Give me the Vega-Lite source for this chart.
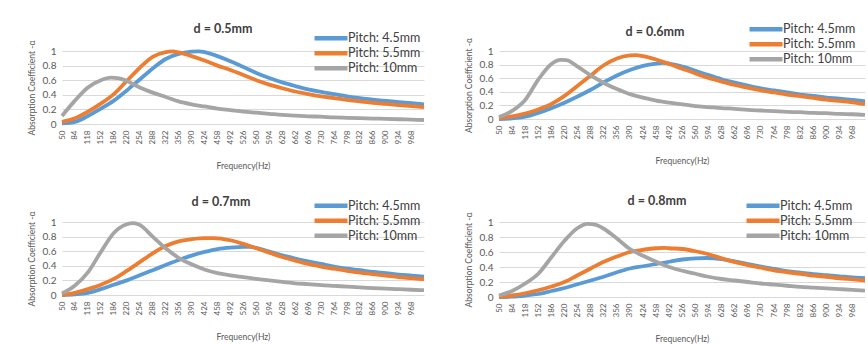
{
  "$schema": "https://vega.github.io/schema/vega-lite/v6.json",
  "background": "white",
  "padding": {"left": 27, "top": 22, "right": 0, "bottom": 0},
  "spacing": {"row": 23, "column": 32},
  "columns": 2,
  "config": {
    "font": "Lato",
    "view": {"stroke": null},
    "title": {"font": "Lato", "fontSize": 12.5, "fontWeight": "bold", "color": "#404040", "offset": -9, "dx": -20, "frame": "group"},
    "axis": {"domain": false, "ticks": false, "labelColor": "#595959", "titleColor": "#595959", "titleFont": "Lato", "labelFont": "Lato", "titleFontWeight": "normal", "gridColor": "#d9d9d9", "gridWidth": 1},
    "axisX": {"grid": false, "labelAngle": -90, "labelFontSize": 8, "labelPadding": 6, "titleFontSize": 8.5, "titlePadding": 18},
    "axisY": {"grid": true, "labelFontSize": 10, "labelPadding": 6, "titleFontSize": 8.5, "titlePadding": 6},
    "legend": {"labelFont": "Lato", "labelFontSize": 12.5, "labelColor": "#404040", "symbolType": "stroke", "symbolStrokeWidth": 4.5, "symbolSize": 1089, "clipHeight": 14.5, "rowPadding": 0, "labelOffset": -2, "padding": 0}
  },
  "resolve": {"legend": {"color": "independent"}},
  "data": {"values": [
    {"d":"0.5","p":"Pitch: 4.5mm","f":50,"a":0.01},{"d":"0.5","p":"Pitch: 4.5mm","f":84,"a":0.03},{"d":"0.5","p":"Pitch: 4.5mm","f":118,"a":0.11},{"d":"0.5","p":"Pitch: 4.5mm","f":152,"a":0.21},{"d":"0.5","p":"Pitch: 4.5mm","f":186,"a":0.32},{"d":"0.5","p":"Pitch: 4.5mm","f":220,"a":0.46},{"d":"0.5","p":"Pitch: 4.5mm","f":254,"a":0.61},{"d":"0.5","p":"Pitch: 4.5mm","f":288,"a":0.76},{"d":"0.5","p":"Pitch: 4.5mm","f":322,"a":0.89},{"d":"0.5","p":"Pitch: 4.5mm","f":356,"a":0.96},{"d":"0.5","p":"Pitch: 4.5mm","f":390,"a":0.99},{"d":"0.5","p":"Pitch: 4.5mm","f":410,"a":0.995},{"d":"0.5","p":"Pitch: 4.5mm","f":424,"a":0.985},{"d":"0.5","p":"Pitch: 4.5mm","f":458,"a":0.93},{"d":"0.5","p":"Pitch: 4.5mm","f":492,"a":0.86},{"d":"0.5","p":"Pitch: 4.5mm","f":526,"a":0.78},{"d":"0.5","p":"Pitch: 4.5mm","f":560,"a":0.70},{"d":"0.5","p":"Pitch: 4.5mm","f":594,"a":0.63},{"d":"0.5","p":"Pitch: 4.5mm","f":628,"a":0.57},{"d":"0.5","p":"Pitch: 4.5mm","f":662,"a":0.52},{"d":"0.5","p":"Pitch: 4.5mm","f":696,"a":0.475},{"d":"0.5","p":"Pitch: 4.5mm","f":730,"a":0.44},{"d":"0.5","p":"Pitch: 4.5mm","f":764,"a":0.41},{"d":"0.5","p":"Pitch: 4.5mm","f":798,"a":0.38},{"d":"0.5","p":"Pitch: 4.5mm","f":832,"a":0.355},{"d":"0.5","p":"Pitch: 4.5mm","f":866,"a":0.335},{"d":"0.5","p":"Pitch: 4.5mm","f":900,"a":0.315},{"d":"0.5","p":"Pitch: 4.5mm","f":934,"a":0.3},{"d":"0.5","p":"Pitch: 4.5mm","f":968,"a":0.285},{"d":"0.5","p":"Pitch: 4.5mm","f":1000,"a":0.27},
    {"d":"0.5","p":"Pitch: 5.5mm","f":50,"a":0.03},{"d":"0.5","p":"Pitch: 5.5mm","f":84,"a":0.08},{"d":"0.5","p":"Pitch: 5.5mm","f":118,"a":0.17},{"d":"0.5","p":"Pitch: 5.5mm","f":152,"a":0.28},{"d":"0.5","p":"Pitch: 5.5mm","f":186,"a":0.41},{"d":"0.5","p":"Pitch: 5.5mm","f":220,"a":0.59},{"d":"0.5","p":"Pitch: 5.5mm","f":254,"a":0.77},{"d":"0.5","p":"Pitch: 5.5mm","f":288,"a":0.92},{"d":"0.5","p":"Pitch: 5.5mm","f":322,"a":0.985},{"d":"0.5","p":"Pitch: 5.5mm","f":340,"a":0.995},{"d":"0.5","p":"Pitch: 5.5mm","f":356,"a":0.98},{"d":"0.5","p":"Pitch: 5.5mm","f":390,"a":0.93},{"d":"0.5","p":"Pitch: 5.5mm","f":424,"a":0.87},{"d":"0.5","p":"Pitch: 5.5mm","f":458,"a":0.8},{"d":"0.5","p":"Pitch: 5.5mm","f":492,"a":0.74},{"d":"0.5","p":"Pitch: 5.5mm","f":526,"a":0.67},{"d":"0.5","p":"Pitch: 5.5mm","f":560,"a":0.6},{"d":"0.5","p":"Pitch: 5.5mm","f":594,"a":0.54},{"d":"0.5","p":"Pitch: 5.5mm","f":628,"a":0.49},{"d":"0.5","p":"Pitch: 5.5mm","f":662,"a":0.445},{"d":"0.5","p":"Pitch: 5.5mm","f":696,"a":0.41},{"d":"0.5","p":"Pitch: 5.5mm","f":730,"a":0.38},{"d":"0.5","p":"Pitch: 5.5mm","f":764,"a":0.355},{"d":"0.5","p":"Pitch: 5.5mm","f":798,"a":0.33},{"d":"0.5","p":"Pitch: 5.5mm","f":832,"a":0.31},{"d":"0.5","p":"Pitch: 5.5mm","f":866,"a":0.29},{"d":"0.5","p":"Pitch: 5.5mm","f":900,"a":0.275},{"d":"0.5","p":"Pitch: 5.5mm","f":934,"a":0.26},{"d":"0.5","p":"Pitch: 5.5mm","f":968,"a":0.245},{"d":"0.5","p":"Pitch: 5.5mm","f":1000,"a":0.23},
    {"d":"0.5","p":"Pitch: 10mm","f":50,"a":0.11},{"d":"0.5","p":"Pitch: 10mm","f":84,"a":0.32},{"d":"0.5","p":"Pitch: 10mm","f":118,"a":0.5},{"d":"0.5","p":"Pitch: 10mm","f":152,"a":0.6},{"d":"0.5","p":"Pitch: 10mm","f":178,"a":0.635},{"d":"0.5","p":"Pitch: 10mm","f":200,"a":0.625},{"d":"0.5","p":"Pitch: 10mm","f":220,"a":0.59},{"d":"0.5","p":"Pitch: 10mm","f":254,"a":0.5},{"d":"0.5","p":"Pitch: 10mm","f":288,"a":0.43},{"d":"0.5","p":"Pitch: 10mm","f":322,"a":0.37},{"d":"0.5","p":"Pitch: 10mm","f":356,"a":0.31},{"d":"0.5","p":"Pitch: 10mm","f":390,"a":0.27},{"d":"0.5","p":"Pitch: 10mm","f":424,"a":0.24},{"d":"0.5","p":"Pitch: 10mm","f":458,"a":0.21},{"d":"0.5","p":"Pitch: 10mm","f":492,"a":0.19},{"d":"0.5","p":"Pitch: 10mm","f":526,"a":0.17},{"d":"0.5","p":"Pitch: 10mm","f":560,"a":0.155},{"d":"0.5","p":"Pitch: 10mm","f":594,"a":0.14},{"d":"0.5","p":"Pitch: 10mm","f":628,"a":0.125},{"d":"0.5","p":"Pitch: 10mm","f":662,"a":0.115},{"d":"0.5","p":"Pitch: 10mm","f":696,"a":0.105},{"d":"0.5","p":"Pitch: 10mm","f":730,"a":0.1},{"d":"0.5","p":"Pitch: 10mm","f":764,"a":0.09},{"d":"0.5","p":"Pitch: 10mm","f":798,"a":0.085},{"d":"0.5","p":"Pitch: 10mm","f":832,"a":0.08},{"d":"0.5","p":"Pitch: 10mm","f":866,"a":0.075},{"d":"0.5","p":"Pitch: 10mm","f":900,"a":0.07},{"d":"0.5","p":"Pitch: 10mm","f":934,"a":0.065},{"d":"0.5","p":"Pitch: 10mm","f":968,"a":0.06},{"d":"0.5","p":"Pitch: 10mm","f":1000,"a":0.055},

    {"d":"0.6","p":"Pitch: 4.5mm","f":50,"a":0.0},{"d":"0.6","p":"Pitch: 4.5mm","f":84,"a":0.01},{"d":"0.6","p":"Pitch: 4.5mm","f":118,"a":0.035},{"d":"0.6","p":"Pitch: 4.5mm","f":152,"a":0.09},{"d":"0.6","p":"Pitch: 4.5mm","f":186,"a":0.16},{"d":"0.6","p":"Pitch: 4.5mm","f":220,"a":0.24},{"d":"0.6","p":"Pitch: 4.5mm","f":254,"a":0.33},{"d":"0.6","p":"Pitch: 4.5mm","f":288,"a":0.43},{"d":"0.6","p":"Pitch: 4.5mm","f":322,"a":0.54},{"d":"0.6","p":"Pitch: 4.5mm","f":356,"a":0.64},{"d":"0.6","p":"Pitch: 4.5mm","f":390,"a":0.72},{"d":"0.6","p":"Pitch: 4.5mm","f":424,"a":0.78},{"d":"0.6","p":"Pitch: 4.5mm","f":458,"a":0.815},{"d":"0.6","p":"Pitch: 4.5mm","f":475,"a":0.825},{"d":"0.6","p":"Pitch: 4.5mm","f":492,"a":0.815},{"d":"0.6","p":"Pitch: 4.5mm","f":526,"a":0.77},{"d":"0.6","p":"Pitch: 4.5mm","f":560,"a":0.71},{"d":"0.6","p":"Pitch: 4.5mm","f":594,"a":0.645},{"d":"0.6","p":"Pitch: 4.5mm","f":628,"a":0.585},{"d":"0.6","p":"Pitch: 4.5mm","f":662,"a":0.535},{"d":"0.6","p":"Pitch: 4.5mm","f":696,"a":0.49},{"d":"0.6","p":"Pitch: 4.5mm","f":730,"a":0.45},{"d":"0.6","p":"Pitch: 4.5mm","f":764,"a":0.42},{"d":"0.6","p":"Pitch: 4.5mm","f":798,"a":0.39},{"d":"0.6","p":"Pitch: 4.5mm","f":832,"a":0.36},{"d":"0.6","p":"Pitch: 4.5mm","f":866,"a":0.34},{"d":"0.6","p":"Pitch: 4.5mm","f":900,"a":0.315},{"d":"0.6","p":"Pitch: 4.5mm","f":934,"a":0.3},{"d":"0.6","p":"Pitch: 4.5mm","f":968,"a":0.28},{"d":"0.6","p":"Pitch: 4.5mm","f":1000,"a":0.26},
    {"d":"0.6","p":"Pitch: 5.5mm","f":50,"a":0.01},{"d":"0.6","p":"Pitch: 5.5mm","f":84,"a":0.04},{"d":"0.6","p":"Pitch: 5.5mm","f":118,"a":0.08},{"d":"0.6","p":"Pitch: 5.5mm","f":152,"a":0.14},{"d":"0.6","p":"Pitch: 5.5mm","f":186,"a":0.22},{"d":"0.6","p":"Pitch: 5.5mm","f":220,"a":0.34},{"d":"0.6","p":"Pitch: 5.5mm","f":254,"a":0.49},{"d":"0.6","p":"Pitch: 5.5mm","f":288,"a":0.64},{"d":"0.6","p":"Pitch: 5.5mm","f":322,"a":0.79},{"d":"0.6","p":"Pitch: 5.5mm","f":356,"a":0.89},{"d":"0.6","p":"Pitch: 5.5mm","f":390,"a":0.935},{"d":"0.6","p":"Pitch: 5.5mm","f":405,"a":0.94},{"d":"0.6","p":"Pitch: 5.5mm","f":424,"a":0.925},{"d":"0.6","p":"Pitch: 5.5mm","f":458,"a":0.875},{"d":"0.6","p":"Pitch: 5.5mm","f":492,"a":0.81},{"d":"0.6","p":"Pitch: 5.5mm","f":526,"a":0.74},{"d":"0.6","p":"Pitch: 5.5mm","f":560,"a":0.67},{"d":"0.6","p":"Pitch: 5.5mm","f":594,"a":0.605},{"d":"0.6","p":"Pitch: 5.5mm","f":628,"a":0.55},{"d":"0.6","p":"Pitch: 5.5mm","f":662,"a":0.5},{"d":"0.6","p":"Pitch: 5.5mm","f":696,"a":0.46},{"d":"0.6","p":"Pitch: 5.5mm","f":730,"a":0.42},{"d":"0.6","p":"Pitch: 5.5mm","f":764,"a":0.39},{"d":"0.6","p":"Pitch: 5.5mm","f":798,"a":0.36},{"d":"0.6","p":"Pitch: 5.5mm","f":832,"a":0.335},{"d":"0.6","p":"Pitch: 5.5mm","f":866,"a":0.31},{"d":"0.6","p":"Pitch: 5.5mm","f":900,"a":0.285},{"d":"0.6","p":"Pitch: 5.5mm","f":934,"a":0.265},{"d":"0.6","p":"Pitch: 5.5mm","f":968,"a":0.245},{"d":"0.6","p":"Pitch: 5.5mm","f":1000,"a":0.22},
    {"d":"0.6","p":"Pitch: 10mm","f":50,"a":0.03},{"d":"0.6","p":"Pitch: 10mm","f":84,"a":0.12},{"d":"0.6","p":"Pitch: 10mm","f":118,"a":0.28},{"d":"0.6","p":"Pitch: 10mm","f":152,"a":0.58},{"d":"0.6","p":"Pitch: 10mm","f":186,"a":0.81},{"d":"0.6","p":"Pitch: 10mm","f":210,"a":0.87},{"d":"0.6","p":"Pitch: 10mm","f":225,"a":0.865},{"d":"0.6","p":"Pitch: 10mm","f":254,"a":0.77},{"d":"0.6","p":"Pitch: 10mm","f":288,"a":0.64},{"d":"0.6","p":"Pitch: 10mm","f":322,"a":0.53},{"d":"0.6","p":"Pitch: 10mm","f":356,"a":0.44},{"d":"0.6","p":"Pitch: 10mm","f":390,"a":0.365},{"d":"0.6","p":"Pitch: 10mm","f":424,"a":0.315},{"d":"0.6","p":"Pitch: 10mm","f":458,"a":0.27},{"d":"0.6","p":"Pitch: 10mm","f":492,"a":0.24},{"d":"0.6","p":"Pitch: 10mm","f":526,"a":0.215},{"d":"0.6","p":"Pitch: 10mm","f":560,"a":0.19},{"d":"0.6","p":"Pitch: 10mm","f":594,"a":0.175},{"d":"0.6","p":"Pitch: 10mm","f":628,"a":0.16},{"d":"0.6","p":"Pitch: 10mm","f":662,"a":0.15},{"d":"0.6","p":"Pitch: 10mm","f":696,"a":0.135},{"d":"0.6","p":"Pitch: 10mm","f":730,"a":0.125},{"d":"0.6","p":"Pitch: 10mm","f":764,"a":0.115},{"d":"0.6","p":"Pitch: 10mm","f":798,"a":0.105},{"d":"0.6","p":"Pitch: 10mm","f":832,"a":0.1},{"d":"0.6","p":"Pitch: 10mm","f":866,"a":0.09},{"d":"0.6","p":"Pitch: 10mm","f":900,"a":0.085},{"d":"0.6","p":"Pitch: 10mm","f":934,"a":0.075},{"d":"0.6","p":"Pitch: 10mm","f":968,"a":0.07},{"d":"0.6","p":"Pitch: 10mm","f":1000,"a":0.06},

    {"d":"0.7","p":"Pitch: 4.5mm","f":50,"a":0.0},{"d":"0.7","p":"Pitch: 4.5mm","f":84,"a":0.01},{"d":"0.7","p":"Pitch: 4.5mm","f":118,"a":0.03},{"d":"0.7","p":"Pitch: 4.5mm","f":152,"a":0.08},{"d":"0.7","p":"Pitch: 4.5mm","f":186,"a":0.14},{"d":"0.7","p":"Pitch: 4.5mm","f":220,"a":0.2},{"d":"0.7","p":"Pitch: 4.5mm","f":254,"a":0.27},{"d":"0.7","p":"Pitch: 4.5mm","f":288,"a":0.34},{"d":"0.7","p":"Pitch: 4.5mm","f":322,"a":0.41},{"d":"0.7","p":"Pitch: 4.5mm","f":356,"a":0.48},{"d":"0.7","p":"Pitch: 4.5mm","f":390,"a":0.54},{"d":"0.7","p":"Pitch: 4.5mm","f":424,"a":0.59},{"d":"0.7","p":"Pitch: 4.5mm","f":458,"a":0.63},{"d":"0.7","p":"Pitch: 4.5mm","f":492,"a":0.65},{"d":"0.7","p":"Pitch: 4.5mm","f":526,"a":0.66},{"d":"0.7","p":"Pitch: 4.5mm","f":545,"a":0.66},{"d":"0.7","p":"Pitch: 4.5mm","f":560,"a":0.645},{"d":"0.7","p":"Pitch: 4.5mm","f":594,"a":0.595},{"d":"0.7","p":"Pitch: 4.5mm","f":628,"a":0.545},{"d":"0.7","p":"Pitch: 4.5mm","f":662,"a":0.5},{"d":"0.7","p":"Pitch: 4.5mm","f":696,"a":0.46},{"d":"0.7","p":"Pitch: 4.5mm","f":730,"a":0.425},{"d":"0.7","p":"Pitch: 4.5mm","f":764,"a":0.39},{"d":"0.7","p":"Pitch: 4.5mm","f":798,"a":0.36},{"d":"0.7","p":"Pitch: 4.5mm","f":832,"a":0.34},{"d":"0.7","p":"Pitch: 4.5mm","f":866,"a":0.315},{"d":"0.7","p":"Pitch: 4.5mm","f":900,"a":0.3},{"d":"0.7","p":"Pitch: 4.5mm","f":934,"a":0.28},{"d":"0.7","p":"Pitch: 4.5mm","f":968,"a":0.265},{"d":"0.7","p":"Pitch: 4.5mm","f":1000,"a":0.25},
    {"d":"0.7","p":"Pitch: 5.5mm","f":50,"a":0.0},{"d":"0.7","p":"Pitch: 5.5mm","f":84,"a":0.03},{"d":"0.7","p":"Pitch: 5.5mm","f":118,"a":0.08},{"d":"0.7","p":"Pitch: 5.5mm","f":152,"a":0.14},{"d":"0.7","p":"Pitch: 5.5mm","f":186,"a":0.22},{"d":"0.7","p":"Pitch: 5.5mm","f":220,"a":0.33},{"d":"0.7","p":"Pitch: 5.5mm","f":254,"a":0.45},{"d":"0.7","p":"Pitch: 5.5mm","f":288,"a":0.57},{"d":"0.7","p":"Pitch: 5.5mm","f":322,"a":0.67},{"d":"0.7","p":"Pitch: 5.5mm","f":356,"a":0.735},{"d":"0.7","p":"Pitch: 5.5mm","f":390,"a":0.765},{"d":"0.7","p":"Pitch: 5.5mm","f":424,"a":0.78},{"d":"0.7","p":"Pitch: 5.5mm","f":450,"a":0.78},{"d":"0.7","p":"Pitch: 5.5mm","f":470,"a":0.77},{"d":"0.7","p":"Pitch: 5.5mm","f":492,"a":0.75},{"d":"0.7","p":"Pitch: 5.5mm","f":526,"a":0.7},{"d":"0.7","p":"Pitch: 5.5mm","f":560,"a":0.64},{"d":"0.7","p":"Pitch: 5.5mm","f":594,"a":0.58},{"d":"0.7","p":"Pitch: 5.5mm","f":628,"a":0.52},{"d":"0.7","p":"Pitch: 5.5mm","f":662,"a":0.47},{"d":"0.7","p":"Pitch: 5.5mm","f":696,"a":0.425},{"d":"0.7","p":"Pitch: 5.5mm","f":730,"a":0.39},{"d":"0.7","p":"Pitch: 5.5mm","f":764,"a":0.36},{"d":"0.7","p":"Pitch: 5.5mm","f":798,"a":0.33},{"d":"0.7","p":"Pitch: 5.5mm","f":832,"a":0.305},{"d":"0.7","p":"Pitch: 5.5mm","f":866,"a":0.285},{"d":"0.7","p":"Pitch: 5.5mm","f":900,"a":0.265},{"d":"0.7","p":"Pitch: 5.5mm","f":934,"a":0.245},{"d":"0.7","p":"Pitch: 5.5mm","f":968,"a":0.23},{"d":"0.7","p":"Pitch: 5.5mm","f":1000,"a":0.215},
    {"d":"0.7","p":"Pitch: 10mm","f":50,"a":0.02},{"d":"0.7","p":"Pitch: 10mm","f":84,"a":0.13},{"d":"0.7","p":"Pitch: 10mm","f":118,"a":0.31},{"d":"0.7","p":"Pitch: 10mm","f":152,"a":0.59},{"d":"0.7","p":"Pitch: 10mm","f":186,"a":0.85},{"d":"0.7","p":"Pitch: 10mm","f":220,"a":0.97},{"d":"0.7","p":"Pitch: 10mm","f":238,"a":0.985},{"d":"0.7","p":"Pitch: 10mm","f":254,"a":0.96},{"d":"0.7","p":"Pitch: 10mm","f":288,"a":0.8},{"d":"0.7","p":"Pitch: 10mm","f":322,"a":0.64},{"d":"0.7","p":"Pitch: 10mm","f":356,"a":0.51},{"d":"0.7","p":"Pitch: 10mm","f":390,"a":0.42},{"d":"0.7","p":"Pitch: 10mm","f":424,"a":0.35},{"d":"0.7","p":"Pitch: 10mm","f":458,"a":0.3},{"d":"0.7","p":"Pitch: 10mm","f":492,"a":0.27},{"d":"0.7","p":"Pitch: 10mm","f":526,"a":0.245},{"d":"0.7","p":"Pitch: 10mm","f":560,"a":0.22},{"d":"0.7","p":"Pitch: 10mm","f":594,"a":0.2},{"d":"0.7","p":"Pitch: 10mm","f":628,"a":0.18},{"d":"0.7","p":"Pitch: 10mm","f":662,"a":0.16},{"d":"0.7","p":"Pitch: 10mm","f":696,"a":0.15},{"d":"0.7","p":"Pitch: 10mm","f":730,"a":0.135},{"d":"0.7","p":"Pitch: 10mm","f":764,"a":0.125},{"d":"0.7","p":"Pitch: 10mm","f":798,"a":0.115},{"d":"0.7","p":"Pitch: 10mm","f":832,"a":0.105},{"d":"0.7","p":"Pitch: 10mm","f":866,"a":0.095},{"d":"0.7","p":"Pitch: 10mm","f":900,"a":0.088},{"d":"0.7","p":"Pitch: 10mm","f":934,"a":0.08},{"d":"0.7","p":"Pitch: 10mm","f":968,"a":0.072},{"d":"0.7","p":"Pitch: 10mm","f":1000,"a":0.066},

    {"d":"0.8","p":"Pitch: 4.5mm","f":50,"a":0.0},{"d":"0.8","p":"Pitch: 4.5mm","f":84,"a":0.005},{"d":"0.8","p":"Pitch: 4.5mm","f":118,"a":0.02},{"d":"0.8","p":"Pitch: 4.5mm","f":152,"a":0.04},{"d":"0.8","p":"Pitch: 4.5mm","f":186,"a":0.08},{"d":"0.8","p":"Pitch: 4.5mm","f":220,"a":0.12},{"d":"0.8","p":"Pitch: 4.5mm","f":254,"a":0.17},{"d":"0.8","p":"Pitch: 4.5mm","f":288,"a":0.22},{"d":"0.8","p":"Pitch: 4.5mm","f":322,"a":0.27},{"d":"0.8","p":"Pitch: 4.5mm","f":356,"a":0.33},{"d":"0.8","p":"Pitch: 4.5mm","f":390,"a":0.38},{"d":"0.8","p":"Pitch: 4.5mm","f":424,"a":0.41},{"d":"0.8","p":"Pitch: 4.5mm","f":458,"a":0.44},{"d":"0.8","p":"Pitch: 4.5mm","f":492,"a":0.47},{"d":"0.8","p":"Pitch: 4.5mm","f":526,"a":0.5},{"d":"0.8","p":"Pitch: 4.5mm","f":560,"a":0.515},{"d":"0.8","p":"Pitch: 4.5mm","f":590,"a":0.52},{"d":"0.8","p":"Pitch: 4.5mm","f":628,"a":0.505},{"d":"0.8","p":"Pitch: 4.5mm","f":662,"a":0.475},{"d":"0.8","p":"Pitch: 4.5mm","f":696,"a":0.44},{"d":"0.8","p":"Pitch: 4.5mm","f":730,"a":0.405},{"d":"0.8","p":"Pitch: 4.5mm","f":764,"a":0.375},{"d":"0.8","p":"Pitch: 4.5mm","f":798,"a":0.345},{"d":"0.8","p":"Pitch: 4.5mm","f":832,"a":0.325},{"d":"0.8","p":"Pitch: 4.5mm","f":866,"a":0.305},{"d":"0.8","p":"Pitch: 4.5mm","f":900,"a":0.29},{"d":"0.8","p":"Pitch: 4.5mm","f":934,"a":0.275},{"d":"0.8","p":"Pitch: 4.5mm","f":968,"a":0.26},{"d":"0.8","p":"Pitch: 4.5mm","f":1000,"a":0.25},
    {"d":"0.8","p":"Pitch: 5.5mm","f":50,"a":0.0},{"d":"0.8","p":"Pitch: 5.5mm","f":84,"a":0.02},{"d":"0.8","p":"Pitch: 5.5mm","f":118,"a":0.05},{"d":"0.8","p":"Pitch: 5.5mm","f":152,"a":0.09},{"d":"0.8","p":"Pitch: 5.5mm","f":186,"a":0.14},{"d":"0.8","p":"Pitch: 5.5mm","f":220,"a":0.2},{"d":"0.8","p":"Pitch: 5.5mm","f":254,"a":0.29},{"d":"0.8","p":"Pitch: 5.5mm","f":288,"a":0.38},{"d":"0.8","p":"Pitch: 5.5mm","f":322,"a":0.47},{"d":"0.8","p":"Pitch: 5.5mm","f":356,"a":0.54},{"d":"0.8","p":"Pitch: 5.5mm","f":390,"a":0.6},{"d":"0.8","p":"Pitch: 5.5mm","f":424,"a":0.63},{"d":"0.8","p":"Pitch: 5.5mm","f":458,"a":0.65},{"d":"0.8","p":"Pitch: 5.5mm","f":480,"a":0.655},{"d":"0.8","p":"Pitch: 5.5mm","f":492,"a":0.65},{"d":"0.8","p":"Pitch: 5.5mm","f":526,"a":0.64},{"d":"0.8","p":"Pitch: 5.5mm","f":560,"a":0.61},{"d":"0.8","p":"Pitch: 5.5mm","f":594,"a":0.57},{"d":"0.8","p":"Pitch: 5.5mm","f":628,"a":0.515},{"d":"0.8","p":"Pitch: 5.5mm","f":662,"a":0.465},{"d":"0.8","p":"Pitch: 5.5mm","f":696,"a":0.425},{"d":"0.8","p":"Pitch: 5.5mm","f":730,"a":0.39},{"d":"0.8","p":"Pitch: 5.5mm","f":764,"a":0.355},{"d":"0.8","p":"Pitch: 5.5mm","f":798,"a":0.33},{"d":"0.8","p":"Pitch: 5.5mm","f":832,"a":0.31},{"d":"0.8","p":"Pitch: 5.5mm","f":866,"a":0.285},{"d":"0.8","p":"Pitch: 5.5mm","f":900,"a":0.27},{"d":"0.8","p":"Pitch: 5.5mm","f":934,"a":0.25},{"d":"0.8","p":"Pitch: 5.5mm","f":968,"a":0.235},{"d":"0.8","p":"Pitch: 5.5mm","f":1000,"a":0.22},
    {"d":"0.8","p":"Pitch: 10mm","f":50,"a":0.02},{"d":"0.8","p":"Pitch: 10mm","f":84,"a":0.08},{"d":"0.8","p":"Pitch: 10mm","f":118,"a":0.18},{"d":"0.8","p":"Pitch: 10mm","f":152,"a":0.31},{"d":"0.8","p":"Pitch: 10mm","f":186,"a":0.53},{"d":"0.8","p":"Pitch: 10mm","f":220,"a":0.75},{"d":"0.8","p":"Pitch: 10mm","f":254,"a":0.92},{"d":"0.8","p":"Pitch: 10mm","f":280,"a":0.975},{"d":"0.8","p":"Pitch: 10mm","f":300,"a":0.965},{"d":"0.8","p":"Pitch: 10mm","f":322,"a":0.91},{"d":"0.8","p":"Pitch: 10mm","f":356,"a":0.78},{"d":"0.8","p":"Pitch: 10mm","f":390,"a":0.64},{"d":"0.8","p":"Pitch: 10mm","f":424,"a":0.55},{"d":"0.8","p":"Pitch: 10mm","f":458,"a":0.47},{"d":"0.8","p":"Pitch: 10mm","f":492,"a":0.4},{"d":"0.8","p":"Pitch: 10mm","f":526,"a":0.35},{"d":"0.8","p":"Pitch: 10mm","f":560,"a":0.31},{"d":"0.8","p":"Pitch: 10mm","f":594,"a":0.27},{"d":"0.8","p":"Pitch: 10mm","f":628,"a":0.24},{"d":"0.8","p":"Pitch: 10mm","f":662,"a":0.22},{"d":"0.8","p":"Pitch: 10mm","f":696,"a":0.2},{"d":"0.8","p":"Pitch: 10mm","f":730,"a":0.18},{"d":"0.8","p":"Pitch: 10mm","f":764,"a":0.165},{"d":"0.8","p":"Pitch: 10mm","f":798,"a":0.15},{"d":"0.8","p":"Pitch: 10mm","f":832,"a":0.135},{"d":"0.8","p":"Pitch: 10mm","f":866,"a":0.125},{"d":"0.8","p":"Pitch: 10mm","f":900,"a":0.115},{"d":"0.8","p":"Pitch: 10mm","f":934,"a":0.105},{"d":"0.8","p":"Pitch: 10mm","f":968,"a":0.095},{"d":"0.8","p":"Pitch: 10mm","f":1000,"a":0.085}
  ]},
  "concat": [
    {
      "width": 362, "height": 73,
      "title": {"text": "d = 0.5mm", "offset": -4, "dx": -20},
      "transform": [{"filter": "datum.d == '0.5'"}],
      "mark": {"type": "line", "strokeWidth": 3.8, "interpolate": "monotone"},
      "encoding": {
        "x": {"field": "f", "type": "quantitative", "scale": {"domain": [50, 1000], "nice": false, "zero": false}, "axis": {"values": [50,84,118,152,186,220,254,288,322,356,390,424,458,492,526,560,594,628,662,696,730,764,798,832,866,900,934,968], "title": "Frequency(Hz)"}},
        "y": {"field": "a", "type": "quantitative", "scale": {"domain": [0, 1], "nice": false}, "axis": {"values": [0,0.2,0.4,0.6,0.8,1], "format": "~g", "title": "Absorption Coefficient -α"}},
        "color": {"field": "p", "type": "nominal", "scale": {"domain": ["Pitch: 4.5mm", "Pitch: 5.5mm", "Pitch: 10mm"], "range": ["#5B9BD5", "#ED7D31", "#A5A5A5"]}, "legend": {"orient": "none", "legendX": 250, "legendY": -20, "title": null}}
      }
    },
    {
      "width": 366, "height": 68,
      "title": {"text": "d = 0.6mm", "offset": -16, "dx": -27},
      "transform": [{"filter": "datum.d == '0.6'"}],
      "mark": {"type": "line", "strokeWidth": 3.8, "interpolate": "monotone"},
      "encoding": {
        "x": {"field": "f", "type": "quantitative", "scale": {"domain": [50, 1000], "nice": false, "zero": false}, "axis": {"values": [50,84,118,152,186,220,254,288,322,356,390,424,458,492,526,560,594,628,662,696,730,764,798,832,866,900,934,968], "title": "Frequency(Hz)"}},
        "y": {"field": "a", "type": "quantitative", "scale": {"domain": [0, 1], "nice": false}, "axis": {"values": [0,0.2,0.4,0.6,0.8,1], "format": "~g", "title": "Absorption Coefficient -α"}},
        "color": {"field": "p", "type": "nominal", "scale": {"domain": ["Pitch: 4.5mm", "Pitch: 5.5mm", "Pitch: 10mm"], "range": ["#5B9BD5", "#ED7D31", "#A5A5A5"]}, "legend": {"orient": "none", "legendX": 248, "legendY": -29, "title": null}}
      }
    },
    {
      "width": 362, "height": 73,
      "title": {"text": "d = 0.7mm", "offset": -9.5, "dx": -22},
      "transform": [{"filter": "datum.d == '0.7'"}],
      "mark": {"type": "line", "strokeWidth": 3.8, "interpolate": "monotone"},
      "encoding": {
        "x": {"field": "f", "type": "quantitative", "scale": {"domain": [50, 1000], "nice": false, "zero": false}, "axis": {"values": [50,84,118,152,186,220,254,288,322,356,390,424,458,492,526,560,594,628,662,696,730,764,798,832,866,900,934,968], "title": "Frequency(Hz)"}},
        "y": {"field": "a", "type": "quantitative", "scale": {"domain": [0, 1], "nice": false}, "axis": {"values": [0,0.2,0.4,0.6,0.8,1], "format": "~g", "title": "Absorption Coefficient -α"}},
        "color": {"field": "p", "type": "nominal", "scale": {"domain": ["Pitch: 4.5mm", "Pitch: 5.5mm", "Pitch: 10mm"], "range": ["#5B9BD5", "#ED7D31", "#A5A5A5"]}, "legend": {"orient": "none", "legendX": 250, "legendY": -23.5, "title": null}}
      }
    },
    {
      "width": 366, "height": 75,
      "title": {"text": "d = 0.8mm", "offset": -8.5, "dx": -25},
      "transform": [{"filter": "datum.d == '0.8'"}],
      "mark": {"type": "line", "strokeWidth": 3.8, "interpolate": "monotone"},
      "encoding": {
        "x": {"field": "f", "type": "quantitative", "scale": {"domain": [50, 1000], "nice": false, "zero": false}, "axis": {"values": [50,84,118,152,186,220,254,288,322,356,390,424,458,492,526,560,594,628,662,696,730,764,798,832,866,900,934,968], "title": "Frequency(Hz)"}},
        "y": {"field": "a", "type": "quantitative", "scale": {"domain": [0, 1], "nice": false}, "axis": {"values": [0,0.2,0.4,0.6,0.8,1], "format": "~g", "title": "Absorption Coefficient -α"}},
        "color": {"field": "p", "type": "nominal", "scale": {"domain": ["Pitch: 4.5mm", "Pitch: 5.5mm", "Pitch: 10mm"], "range": ["#5B9BD5", "#ED7D31", "#A5A5A5"]}, "legend": {"orient": "none", "legendX": 245, "legendY": -23.5, "title": null}}
      }
    }
  ]
}
